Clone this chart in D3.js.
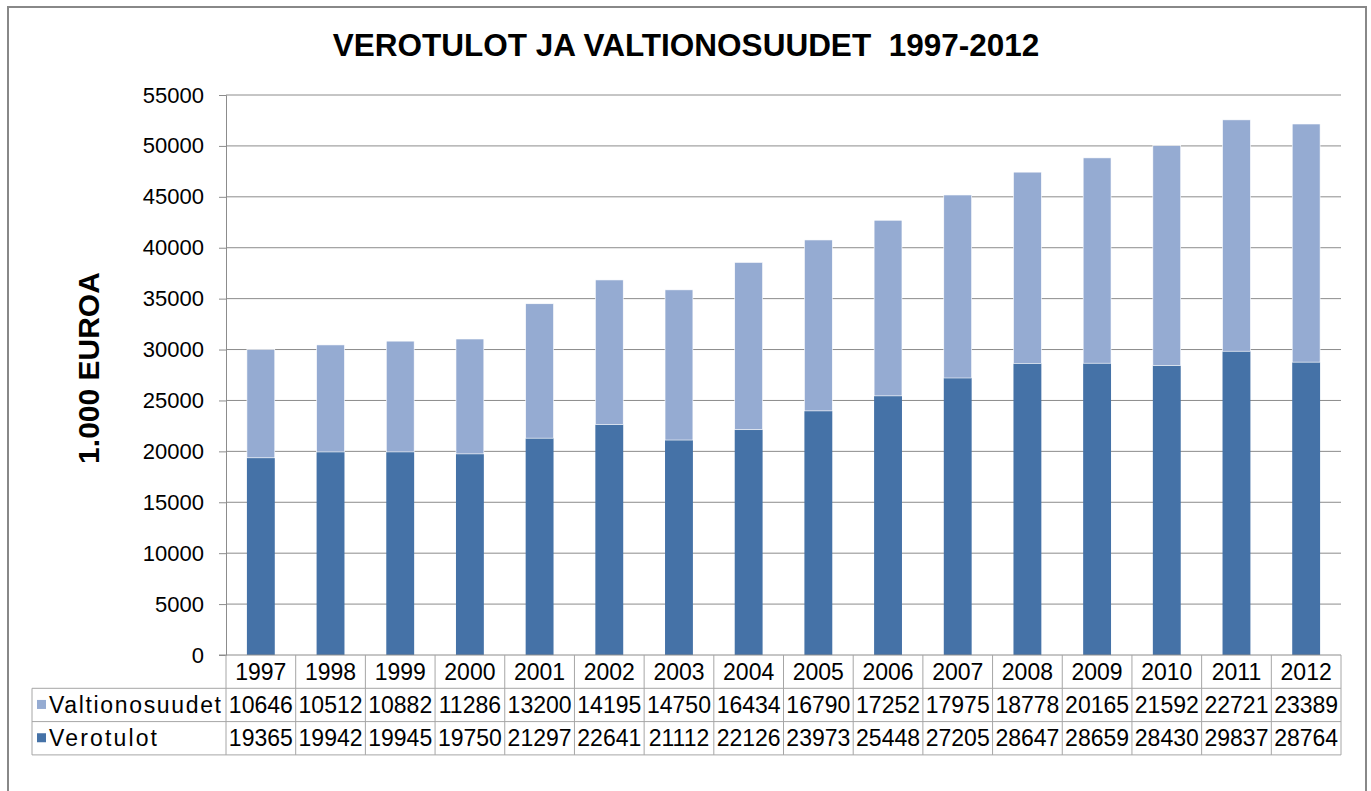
<!DOCTYPE html>
<html>
<head>
<meta charset="utf-8">
<script src="https://cdn.jsdelivr.net/npm/d3@7"></script>
<style>
  body { margin: 0; background: #fff; }
  text { font-family: "Liberation Sans", Arial, sans-serif; }
</style>
</head>
<body>
<svg class="chart"></svg>
<script>
var years = ["1997", "1998", "1999", "2000", "2001", "2002", "2003", "2004",
  "2005", "2006", "2007", "2008", "2009", "2010", "2011", "2012"];
var valtionosuudet = [10646, 10512, 10882, 11286, 13200, 14195, 14750, 16434,
  16790, 17252, 17975, 18778, 20165, 21592, 22721, 23389];
var verotulot = [19365, 19942, 19945, 19750, 21297, 22641, 21112, 22126,
  23973, 25448, 27205, 28647, 28659, 28430, 29837, 28764];
var yTicks = [0, 5000, 10000, 15000, 20000, 25000, 30000, 35000, 40000, 45000, 50000, 55000];

var svgWidth = 1371;
var svgHeight = 791;

var plot = { left: 226, right: 1341, top: 95, bottom: 655 };
var rowH = 33.3;
var tableLeft = 32;

var darkBlue = "#4572a7";
var lightBlue = "#95abd2";
var gridColor = "#8c8c8c";
var tableColor = "#a6a6a6";

var svg = d3.select(".chart")
  .attr("width", svgWidth)
  .attr("height", svgHeight);

// outer frame
svg.append("rect")
  .attr("x", 8).attr("y", 7)
  .attr("width", 1358).attr("height", 800)
  .attr("fill", "#fff")
  .attr("stroke", "#888")
  .attr("stroke-width", 2);

var x = d3.scaleBand()
  .domain(years)
  .range([plot.left, plot.right])
  .paddingInner(0.6)
  .paddingOuter(0.3);

var band = (plot.right - plot.left) / years.length;

var y = d3.scaleLinear()
  .domain([0, 55000])
  .range([plot.bottom, plot.top]);

// tick labels + small tick marks
var leftAxis = d3.axisLeft(y)
  .tickValues(yTicks)
  .tickSize(7)
  .tickPadding(15)
  .tickFormat(d3.format("d"));

var yAxis = svg.append("g")
  .attr("transform", `translate(${plot.left}, 0)`)
  .call(leftAxis);
yAxis.select(".domain").attr("stroke", gridColor);
yAxis.selectAll(".tick line").attr("stroke", gridColor);
yAxis.selectAll(".tick text")
  .attr("font-size", "22px")
  .attr("fill", "#000");

// gridlines
svg.append("g")
  .selectAll("line")
  .data(yTicks.slice(1))
  .enter()
  .append("line")
  .attr("x1", plot.left)
  .attr("x2", plot.right)
  .attr("y1", d => y(d))
  .attr("y2", d => y(d))
  .attr("stroke", gridColor)
  .attr("stroke-width", 1);

// stacked bars
var data = years.map(function (yr, i) {
  return { year: yr, vero: verotulot[i], valt: valtionosuudet[i] };
});

svg.append("g")
  .selectAll("rect")
  .data(data)
  .enter()
  .append("rect")
  .attr("x", d => x(d.year))
  .attr("width", x.bandwidth())
  .attr("y", d => y(d.vero))
  .attr("height", d => y(0) - y(d.vero))
  .attr("fill", darkBlue);

svg.append("g")
  .selectAll("rect")
  .data(data)
  .enter()
  .append("rect")
  .attr("x", d => x(d.year))
  .attr("width", x.bandwidth())
  .attr("y", d => y(d.vero + d.valt))
  .attr("height", d => y(d.vero) - y(d.vero + d.valt))
  .attr("fill", lightBlue)
  .attr("stroke", "#fff")
  .attr("stroke-width", 0.6);

// x axis baseline
svg.append("line")
  .attr("x1", plot.left - 7).attr("x2", plot.right)
  .attr("y1", plot.bottom).attr("y2", plot.bottom)
  .attr("stroke", gridColor);

// data table
var table = svg.append("g");

[1, 2, 3].forEach(function (r) {
  table.append("line")
    .attr("x1", tableLeft)
    .attr("x2", plot.right)
    .attr("y1", plot.bottom + rowH * r)
    .attr("y2", plot.bottom + rowH * r)
    .attr("stroke", tableColor);
});
d3.range(years.length + 1).forEach(function (i) {
  table.append("line")
    .attr("x1", plot.left + band * i)
    .attr("x2", plot.left + band * i)
    .attr("y1", plot.bottom)
    .attr("y2", plot.bottom + rowH * 3)
    .attr("stroke", tableColor);
});
table.append("line")
  .attr("x1", tableLeft).attr("x2", tableLeft)
  .attr("y1", plot.bottom + rowH)
  .attr("y2", plot.bottom + rowH * 3)
  .attr("stroke", tableColor);

// year row
table.selectAll(".yr")
  .data(years)
  .enter()
  .append("text")
  .attr("x", d => x(d) + x.bandwidth() / 2)
  .attr("y", plot.bottom + rowH / 2 + 8)
  .attr("text-anchor", "middle")
  .attr("font-size", "23px")
  .text(d => d);

var rows = [
  { name: "Valtionosuudet", values: valtionosuudet, color: lightBlue, len: 172 },
  { name: "Verotulot", values: verotulot, color: darkBlue, len: 108 }
];

rows.forEach(function (row, r) {
  var cy = plot.bottom + rowH * (r + 1) + rowH / 2;
  table.append("rect")
    .attr("x", tableLeft + 5)
    .attr("y", cy - 5)
    .attr("width", 9)
    .attr("height", 9)
    .attr("fill", row.color);
  table.append("text")
    .attr("x", tableLeft + 17)
    .attr("y", cy + 8)
    .attr("font-size", "23px")
    .attr("textLength", row.len)
    .attr("lengthAdjust", "spacing")
    .text(row.name);
  table.selectAll(".v" + r)
    .data(row.values)
    .enter()
    .append("text")
    .attr("x", (d, i) => x(years[i]) + x.bandwidth() / 2)
    .attr("y", cy + 8)
    .attr("text-anchor", "middle")
    .attr("font-size", "23px")
    .text(d => d);
});

// title
svg.append("text")
  .attr("x", 686)
  .attr("y", 56)
  .attr("text-anchor", "middle")
  .attr("font-size", "31.5px")
  .attr("font-weight", "bold")
  .style("white-space", "pre")
  .text("VEROTULOT JA VALTIONOSUUDET  1997-2012");

// y axis label
svg.append("text")
  .attr("transform", "rotate(-90)")
  .attr("x", -368)
  .attr("y", 99)
  .attr("text-anchor", "middle")
  .attr("font-size", "30px")
  .attr("font-weight", "bold")
  .text("1.000 EUROA");
</script>
</body>
</html>
